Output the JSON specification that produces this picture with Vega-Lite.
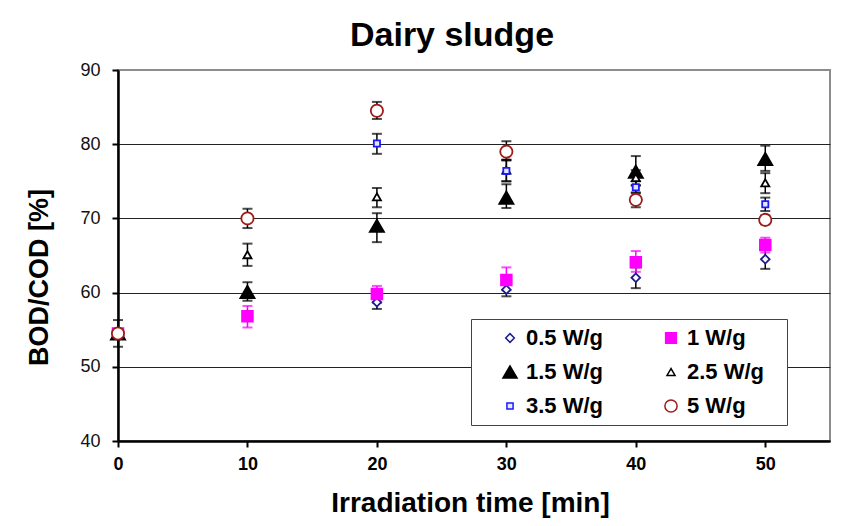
{
  "$schema": "https://vega.github.io/schema/vega-lite/v6.json",
  "width": 712,
  "height": 371,
  "autosize": {"type": "none"},
  "padding": {"left": 118, "top": 70, "right": 14, "bottom": 85},
  "background": "white",
  "title": {
    "text": "Dairy sludge",
    "fontSize": 34,
    "fontWeight": "bold",
    "color": "black",
    "anchor": "middle",
    "frame": "group",
    "dx": -22,
    "offset": 8
  },
  "data": {
    "values": [
      {"series": "0.5 W/g", "t": 0, "v": 54.5},
      {"series": "0.5 W/g", "t": 10, "v": 57.0},
      {"series": "0.5 W/g", "t": 20, "v": 58.7, "lo": 57.8, "hi": 59.6},
      {"series": "0.5 W/g", "t": 30, "v": 60.4, "lo": 59.5, "hi": 61.3},
      {"series": "0.5 W/g", "t": 40, "v": 62.0, "lo": 60.6, "hi": 63.4},
      {"series": "0.5 W/g", "t": 50, "v": 64.5, "lo": 63.2, "hi": 65.8},
      {"series": "1 W/g", "t": 0, "v": 54.5},
      {"series": "1 W/g", "t": 10, "v": 56.8, "lo": 55.3, "hi": 58.2},
      {"series": "1 W/g", "t": 20, "v": 59.8, "lo": 58.6, "hi": 60.9},
      {"series": "1 W/g", "t": 30, "v": 61.7, "lo": 60.3, "hi": 63.4},
      {"series": "1 W/g", "t": 40, "v": 64.1, "lo": 62.8, "hi": 65.6},
      {"series": "1 W/g", "t": 50, "v": 66.4, "lo": 65.4, "hi": 67.4},
      {"series": "1.5 W/g", "t": 0, "v": 54.5},
      {"series": "1.5 W/g", "t": 10, "v": 60.1, "lo": 58.9, "hi": 61.4},
      {"series": "1.5 W/g", "t": 20, "v": 69.0, "lo": 66.8, "hi": 70.7},
      {"series": "1.5 W/g", "t": 30, "v": 72.8, "lo": 71.4, "hi": 74.6},
      {"series": "1.5 W/g", "t": 40, "v": 76.3, "lo": 74.4, "hi": 78.4},
      {"series": "1.5 W/g", "t": 50, "v": 78.0, "lo": 76.4, "hi": 79.8},
      {"series": "2.5 W/g", "t": 0, "v": 54.5},
      {"series": "2.5 W/g", "t": 10, "v": 65.1, "lo": 63.6, "hi": 66.6},
      {"series": "2.5 W/g", "t": 20, "v": 72.9, "lo": 71.5, "hi": 74.1},
      {"series": "2.5 W/g", "t": 30, "v": 76.5, "lo": 75.0, "hi": 77.9},
      {"series": "2.5 W/g", "t": 40, "v": 75.5, "lo": 74.5, "hi": 76.5},
      {"series": "2.5 W/g", "t": 50, "v": 74.8, "lo": 73.4, "hi": 76.1},
      {"series": "3.5 W/g", "t": 0, "v": 54.5},
      {"series": "3.5 W/g", "t": 10, "v": 70.0},
      {"series": "3.5 W/g", "t": 20, "v": 80.1, "lo": 78.7, "hi": 81.4},
      {"series": "3.5 W/g", "t": 30, "v": 76.4, "lo": 75.0, "hi": 77.9},
      {"series": "3.5 W/g", "t": 40, "v": 74.2, "lo": 73.4, "hi": 75.0},
      {"series": "3.5 W/g", "t": 50, "v": 71.9, "lo": 71.0, "hi": 72.8},
      {"series": "5 W/g", "t": 0, "v": 54.5, "lo": 52.7, "hi": 56.3},
      {"series": "5 W/g", "t": 10, "v": 70.0, "lo": 68.7, "hi": 71.3},
      {"series": "5 W/g", "t": 20, "v": 84.5, "lo": 83.4, "hi": 85.7},
      {"series": "5 W/g", "t": 30, "v": 79.0, "lo": 77.8, "hi": 80.4},
      {"series": "5 W/g", "t": 40, "v": 72.5, "lo": 71.5, "hi": 73.5},
      {"series": "5 W/g", "t": 50, "v": 69.8, "lo": 69.2, "hi": 70.4}
    ]
  },
  "encoding": {
    "x": {
      "field": "t",
      "type": "quantitative",
      "scale": {"domain": [0, 55], "nice": false, "zero": false},
      "axis": {
        "title": "Irradiation time [min]",
        "values": [0, 10, 20, 30, 40, 50],
        "grid": false,
        "domainColor": "black",
        "domainWidth": 2.5,
        "tickColor": "black",
        "tickWidth": 2,
        "tickSize": 6,
        "labelFlush": false,
        "labelFontSize": 18,
        "labelFontWeight": "bold",
        "labelColor": "black",
        "labelPadding": 8,
        "titleFontSize": 28,
        "titleFontWeight": "bold",
        "titleColor": "black",
        "titlePadding": 16,
        "titleX": 352
      }
    }
  },
  "layer": [
    {
      "transform": [{"filter": "isValid(datum.lo) && datum.series !== '1 W/g'"}],
      "mark": {"type": "errorbar", "color": "black", "thickness": 1.5, "ticks": {"size": 10, "thickness": 2}},
      "encoding": {
        "y": {"field": "lo", "type": "quantitative", "title": "BOD/COD [%]"},
        "y2": {"field": "hi"}
      }
    },
    {
      "transform": [{"filter": "isValid(datum.lo) && datum.series === '1 W/g'"}],
      "mark": {"type": "errorbar", "color": "#ff00ff", "thickness": 1.5, "ticks": {"size": 10, "thickness": 2}},
      "encoding": {
        "y": {"field": "lo", "type": "quantitative", "title": "BOD/COD [%]"},
        "y2": {"field": "hi"}
      }
    },
    {
      "mark": {"type": "point", "opacity": 1, "strokeWidth": 1.8},
      "encoding": {
        "y": {
          "field": "v",
          "type": "quantitative",
          "scale": {"domain": [40, 90], "nice": false, "zero": false},
          "axis": {
            "title": "BOD/COD [%]",
            "values": [40, 50, 60, 70, 80, 90],
            "grid": true,
            "gridColor": {"condition": {"test": "datum.value === 90", "value": "#8c8c8c"}, "value": "#222222"},
            "gridWidth": 1,
            "domainColor": "black",
            "domainWidth": 2.5,
            "tickColor": "black",
            "tickWidth": 2,
            "tickSize": 6,
            "labelFontSize": 18,
            "labelColor": "#111111",
            "labelPadding": 12,
            "titleFontSize": 27,
            "titleFontWeight": "bold",
            "titleColor": "black",
            "titleX": -79,
            "titleY": 207,
            "titleBaseline": "middle",
            "titleAlign": "center",
            "titleAngle": 270
          }
        },
        "shape": {
          "field": "series",
          "type": "nominal",
          "title": " ",
          "scale": {
            "domain": ["0.5 W/g", "1 W/g", "1.5 W/g", "2.5 W/g", "3.5 W/g", "5 W/g"],
            "range": ["diamond", "square", "triangle-up", "triangle-up", "square", "circle"]
          }
        },
        "stroke": {
          "field": "series",
          "type": "nominal",
          "title": " ",
          "scale": {
            "domain": ["0.5 W/g", "1 W/g", "1.5 W/g", "2.5 W/g", "3.5 W/g", "5 W/g"],
            "range": ["#1c1c8e", "#ff00ff", "#000000", "#000000", "#1a1aff", "#9e1b1b"]
          }
        },
        "fill": {
          "field": "series",
          "type": "nominal",
          "title": " ",
          "scale": {
            "domain": ["0.5 W/g", "1 W/g", "1.5 W/g", "2.5 W/g", "3.5 W/g", "5 W/g"],
            "range": ["#ffffff", "#ff00ff", "#000000", "#ffffff", "#e6e6ff", "#ffffff"]
          }
        },
        "size": {
          "field": "series",
          "type": "nominal",
          "title": " ",
          "scale": {
            "type": "ordinal",
            "domain": ["0.5 W/g", "1 W/g", "1.5 W/g", "2.5 W/g", "3.5 W/g", "5 W/g"],
            "range": [75, 115, 200, 65, 38, 150]
          }
        }
      }
    }
  ],
  "config": {
    "font": "Liberation Sans",
    "view": {"stroke": "#8c8c8c", "strokeWidth": 2},
    "legend": {
      "orient": "none",
      "legendX": 353,
      "legendY": 249,
      "direction": "horizontal",
      "columns": 2,
      "columnPadding": 36,
      "rowPadding": 12,
      "padding": 8,
      "symbolOffset": 20,
      "strokeColor": "#444444",
      "fillColor": "white",
      "titleOrient": "right",
      "titlePadding": 15,
      "titleFontSize": 12,
      "labelFontSize": 22,
      "labelFontWeight": "bold",
      "labelColor": "black",
      "labelOffset": 5,
      "symbolStrokeWidth": 1.5
    }
  }
}
